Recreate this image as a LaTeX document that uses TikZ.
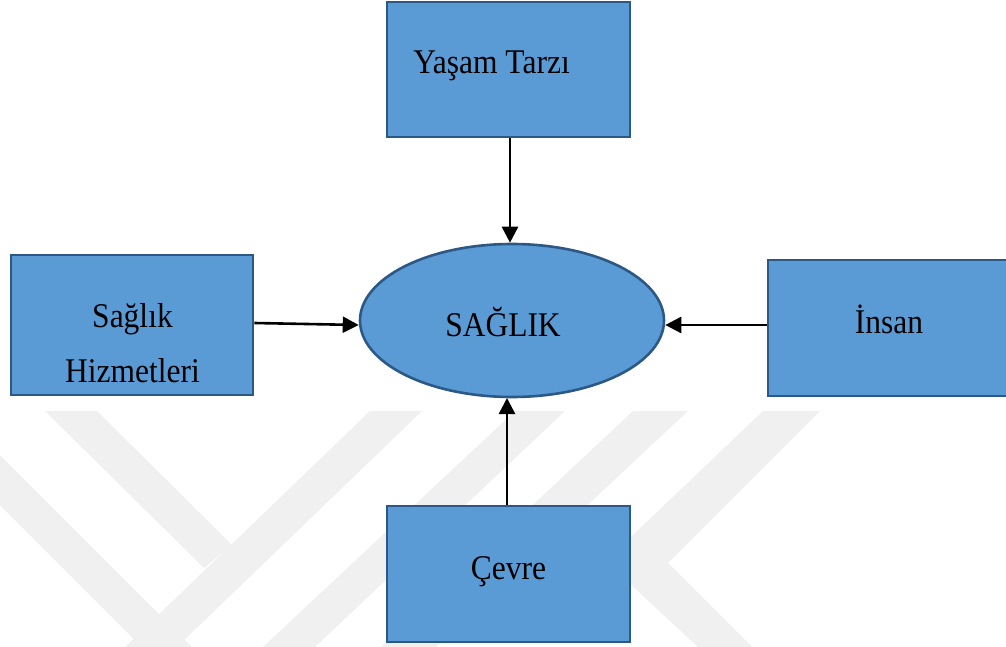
\documentclass[tikz,border=0pt]{standalone}
\usepackage{fontspec}
\setmainfont{Liberation Serif}
\usetikzlibrary{shapes.geometric,arrows.meta}
\definecolor{boxfill}{HTML}{5B9BD5}
\definecolor{boxline}{HTML}{2C5886}
\definecolor{wmark}{HTML}{F0F0F0}
\newcommand\stretchtxt[1]{\scalebox{1}[1.1]{#1}}
\tikzset{
  blockbox/.style={draw=boxline, fill=boxfill, line width=2.8pt, rectangle, inner sep=0pt},
  centerell/.style={draw=boxline, fill=boxfill, line width=2.6pt, ellipse, inner sep=0pt},
  lbl/.style={anchor=base, inner sep=0pt, font=\fontsize{31.5}{36}\selectfont},
  arr/.style={line width=2.6pt, -{Triangle[length=16pt,width=16pt]}},
  wm/.style={fill=wmark, draw=none}
}
\begin{document}
\begin{tikzpicture}[x=1pt,y=-1pt]
\useasboundingbox (0,0) rectangle (1006,647);
% watermark
\fill[wm] (45,411) -- (97,411) -- (232,545) -- (204,568) -- cycle;
\fill[wm] (370,411) -- (422,411) -- (177,647) -- (125,647) -- cycle;
\fill[wm] (0,455) -- (192,647) -- (142,647) -- (0,505) -- cycle;
\fill[wm] (515,411) -- (565,411) -- (315,647) -- (263,647) -- cycle;
\fill[wm] (633,411) -- (688,411) -- (436,647) -- (381,647) -- cycle;
\fill[wm] (763,411) -- (820,411) -- (668,563) -- (752,647) -- (698,647) -- (615,570) -- (615,552) -- cycle;
% nodes
\node[blockbox, minimum width=243, minimum height=135] (yasam) at (508.5,69.5) {};
\node[blockbox, minimum width=242, minimum height=140] (hizmet) at (132,325) {};
\node[blockbox, minimum width=243, minimum height=136] (insan) at (889.5,328) {};
\node[blockbox, minimum width=243, minimum height=136] (cevre) at (508.5,574) {};
\node[centerell, minimum width=304, minimum height=153] (saglik) at (512,320.5) {};
% labels
\node[lbl] (tyasam) at (491.5,74) {\stretchtxt{Yaşam Tarzı}};
\node[lbl] (thiz1) at (132.5,327) {\stretchtxt{Sağlık}};
\node[lbl] (thiz2) at (132.5,382) {\stretchtxt{Hizmetleri}};
\node[lbl] (tins) at (889,333) {\stretchtxt{İnsan}};
\node[lbl] (tcev) at (508.5,579) {\stretchtxt{Çevre}};
\node[lbl] (tsag) at (503,336) {\stretchtxt{SAĞLIK}};
% connectors
\draw[arr] (yasam.south -| 510,0) -- (510,0 |- saglik.north);
\draw[arr] (hizmet.east |- 0,323) -- (saglik.west |- 0,325);
\draw[arr] (insan.west |- 0,325) -- (saglik.east |- 0,325);
\draw[arr] (cevre.north -| 507,0) -- (507,398);
\end{tikzpicture}
\end{document}
